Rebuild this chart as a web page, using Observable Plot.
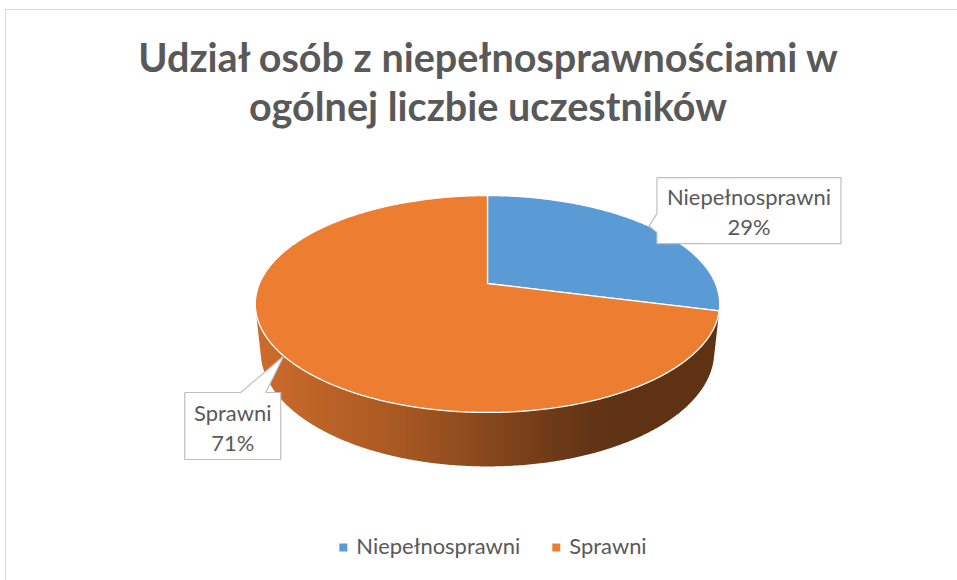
<!DOCTYPE html>
<html>
<head>
<meta charset="utf-8">
<script src="https://cdn.jsdelivr.net/npm/d3@7"></script>
<script src="https://cdn.jsdelivr.net/npm/@observablehq/plot@0.6"></script>
<style>
  html, body { margin: 0; padding: 0; background: #fff; }
  #wrap { position: relative; width: 957px; height: 580px; overflow: hidden; background: #fff; }
  #wrap svg { display: block; }
  #frame { position: absolute; left: 5px; top: 9px; width: 1000px; height: 1000px;
           border-left: 1.5px solid #d9d9d9; border-top: 1.5px solid #d9d9d9; pointer-events: none; z-index: 2; }
</style>
</head>
<body>
<div id="wrap"><div id="frame"></div></div>
<script>
// ---------------- data ----------------
const categories = ["Niepełnosprawni", "Sprawni"];
const values = [29, 71];
const colors = ["#5B9BD5", "#ED7D31"];
const titleLines = ["Udział osób z niepełnosprawnościami w", "ogólnej liczbie uczestników"];

// ---------------- layout / view ----------------
const W = 957, TITLE_H = 150, PLOT_H = 375, LEGEND_H = 55;
const CX = 487, CY = 283 - TITLE_H, S = 228;         // pie vertex in plot pixels, radius scale
const ELEV = 27.3 * Math.PI / 180, DIST = 4.7, THICK = 0.237;
const FONT = "Lato, 'Open Sans', sans-serif";
const TEXT_COLOR = "#595959";

const ctx = document.createElement("canvas").getContext("2d");
function fitSize(text, weight, target) {
  ctx.font = `${weight} 100px Lato`;
  return 100 * target / ctx.measureText(text).width;
}
function textW(text, weight, size) {
  ctx.font = `${weight} ${size}px Lato`;
  return ctx.measureText(text).width;
}

// perspective projection of a point on the pie rim
function project(theta, h, r = 1) {
  const x = r * Math.sin(theta), z = -r * Math.cos(theta);
  const up = h * Math.cos(ELEV) - z * Math.sin(ELEV);
  const dz = h * Math.sin(ELEV) + z * Math.cos(ELEV);
  const f = DIST / (DIST - dz);
  return [x * f, up * f];
}
const STEP = Math.PI / 360;
function arcPts(a0, a1, h) {
  const n = Math.max(2, Math.ceil(Math.abs(a1 - a0) / STEP));
  return d3.range(n + 1).map(i => project(a0 + (a1 - a0) * i / n, h));
}

const total = d3.sum(values);
const arcs = d3.pie().sort(null).value(d => d)(values);
const zc = DIST * Math.cos(ELEV);
const thA = Math.acos(-1 / zc), thB = 2 * Math.PI - thA;   // silhouette angles

const tops = [], sides = [];
arcs.forEach((a, i) => {
  const key = categories[i];
  [[0, 0], ...arcPts(a.startAngle, a.endAngle, 0), [0, 0]].forEach(([x, y]) => tops.push({key, x, y}));
  const s0 = Math.max(a.startAngle, thA), s1 = Math.min(a.endAngle, thB);
  if (s0 < s1) {
    const pts = [...arcPts(s0, s1, 0), ...arcPts(s1, s0, -THICK)].map(([x, y]) => ({x, y}));
    sides.push({i, pts});
  }
});

// ---------------- labels (callouts) ----------------
const labelFs = fitSize("Niepełnosprawni", "normal", 164);
const labelLayout = [
  {dx: 100, dy: -15.5, w: 184, h: 66, side: "left", b0: 3, b1: 22},
  {dx: -51, dy: 70, w: 96, h: 67, side: "top", b0: 8, b1: 33}
];
const toModel = ([px, py]) => ({x: (px - CX) / S, y: (CY - py) / S});
const labels = [], boxes = [];
arcs.forEach((a, i) => {
  const mid = (a.startAngle + a.endAngle) / 2;
  const [ux, uy] = project(mid, 0);
  const ax = CX + S * ux, ay = CY - S * uy;
  const L = labelLayout[i];
  const bx = ax + L.dx, by = ay + L.dy;
  const l = bx - L.w / 2, r = bx + L.w / 2, t = by - L.h / 2, b = by + L.h / 2;
  let poly;
  if (L.side === "left") {
    poly = [[l, t], [r, t], [r, b], [l, b], [l, by + L.b1], [ax, ay], [l, by + L.b0], [l, t]];
  } else {
    poly = [[l, t], [bx + L.b0, t], [ax, ay], [bx + L.b1, t], [r, t], [r, b], [l, b], [l, t]];
  }
  poly.forEach(p => boxes.push({key: categories[i], ...toModel(p)}));
  labels.push({...toModel([bx, by]), text: `${categories[i]}\n${Math.round(values[i] / total * 100)}%`});
});

// ---------------- title ----------------
const wrap = d3.select("#wrap");
const titleFs = fitSize(titleLines[0], "bold", 702);
const tsvg = wrap.insert("svg", "#frame").attr("width", W).attr("height", TITLE_H);
tsvg.selectAll("text").data(titleLines).join("text")
  .attr("x", 488).attr("y", (d, i) => 72 + i * 49)
  .attr("text-anchor", "middle")
  .attr("font-family", FONT).attr("font-weight", "bold").attr("font-size", titleFs)
  .attr("fill", TEXT_COLOR)
  .text(d => d);

// ---------------- pie ----------------
const chart = Plot.plot({
  width: W, height: PLOT_H, margin: 0,
  x: {domain: [-CX / S, (W - CX) / S], axis: null},
  y: {domain: [-(PLOT_H - CY) / S, CY / S], axis: null},
  color: {domain: categories, range: colors},
  style: {background: "transparent"},
  marks: [
    ...sides.map(sd => Plot.line(sd.pts, {x: "x", y: "y", fill: `url(#side-grad-${sd.i})`, stroke: "none"})),
    Plot.line(tops, {x: "x", y: "y", z: "key", fill: "key", stroke: "white", strokeWidth: 1.3, strokeLinejoin: "round"}),
    Plot.line(boxes, {x: "x", y: "y", z: "key", fill: "white", stroke: "#bfbfbf", strokeWidth: 1.2, strokeLinejoin: "miter", strokeLinecap: "butt"}),
    Plot.text(labels, {x: "x", y: "y", text: "text", fontSize: labelFs, fontFamily: FONT, fill: TEXT_COLOR,
      lineHeight: 30 / labelFs, lineAnchor: "middle", textAnchor: "middle"})
  ]
});
wrap.node().insertBefore(chart, document.getElementById("frame"));

// side gradients
const defs = d3.select(chart).insert("defs", ":first-child");
const gradStops = [[0, 0.87], [0.03, 0.85], [0.29, 0.72], [0.5, 0.57], [0.645, 0.46], [0.716, 0.42], [0.785, 0.40], [1, 0.40]];
colors.forEach((c, i) => {
  const base = d3.rgb(c);
  const g = defs.append("linearGradient").attr("id", `side-grad-${i}`)
    .attr("gradientUnits", "userSpaceOnUse")
    .attr("x1", CX - S * 1.02).attr("x2", CX + S * 1.02).attr("y1", 0).attr("y2", 0);
  gradStops.forEach(([o, k]) => {
    g.append("stop").attr("offset", o)
      .attr("stop-color", d3.rgb(base.r * k, base.g * k, base.b * k).formatHex());
  });
});

// ---------------- legend ----------------
const legFs = labelFs;
const lsvg = wrap.insert("svg", "#frame").attr("width", W).attr("height", LEGEND_H);
const widths = categories.map(c => textW(c, "normal", legFs));
const SW = 8, GAP1 = 9, GAP2 = 32;
const totalW = d3.sum(widths) + categories.length * (SW + GAP1) + GAP2 * (categories.length - 1);
let xPos = 493 - totalW / 2;
categories.forEach((c, i) => {
  lsvg.append("rect").attr("x", xPos).attr("y", 18.5).attr("width", SW).attr("height", SW).attr("fill", colors[i]);
  lsvg.append("text").attr("x", xPos + SW + GAP1).attr("y", 29)
    .attr("font-family", FONT).attr("font-size", legFs).attr("fill", TEXT_COLOR).text(c);
  xPos += SW + GAP1 + widths[i] + GAP2;
});
</script>
</body>
</html>
